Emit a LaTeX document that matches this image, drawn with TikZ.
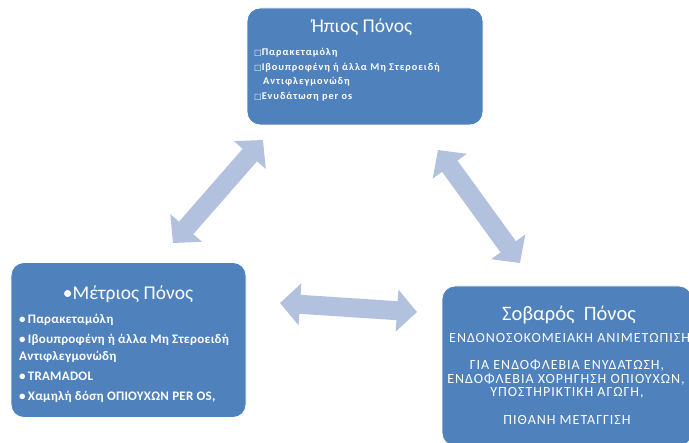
\documentclass[tikz,border=0pt]{standalone}
\usepackage{fontspec}
\setmainfont{Carlito}
\newfontfamily\symf{DejaVu Sans}
\usetikzlibrary{arrows.meta}
\definecolor{boxblue}{HTML}{4F81BD}
\definecolor{arrblue}{HTML}{B2C2DE}
\tikzset{
  box/.style={fill=boxblue, draw=white, line width=0.8pt, rounded corners=13pt, inner sep=0pt},
  ttl/.style={text=white, font=\fontsize{19.5}{22}\selectfont, inner sep=0pt},
  itm/.style={text=white, anchor=base west, inner sep=0pt},
  topitm/.style={itm, font=\bfseries\fontsize{10.3}{12}\selectfont\addfontfeature{LetterSpace=9}},
  lftitm/.style={itm, font=\bfseries\fontsize{13}{15}\selectfont\addfontfeature{LetterSpace=2}},
  rgt/.style={text=white, anchor=base, inner sep=0pt, font=\fontsize{14}{16}\selectfont\addfontfeature{LetterSpace=7}}
  ,
  dbl/.style={arrblue, line width=19pt,
    {Triangle[length=20pt,width=41pt]}-{Triangle[length=20pt,width=41pt]}}
}
\newcommand{\sqb}{{\symf\fontsize{8}{9}\selectfont □}}
\begin{document}
\begin{tikzpicture}[x=1pt,y=-1pt]
\useasboundingbox (0,0) rectangle (689,443);
\clip (0,0) rectangle (689,443);
\fill[white] (0,0) rectangle (689,443);
% boxes
\node[box, minimum width=236pt, minimum height=117pt] (mild) at (365,66.5) {};
\node[box, minimum width=235pt, minimum height=155pt] (mod) at (128.5,340) {};
\node[box, minimum width=250pt, minimum height=160pt] (sev) at (567,366) {};
% top box text
\node[ttl] (mildt) at (362,27) {Ήπιος Πόνος};
\node[topitm] (m1) at (254,55.5) {\sqb Παρακεταμόλη};
\node[topitm] (m2) at (254,70.5) {\sqb Ιβουπροφένη ή άλλα Μη Στεροειδή};
\node[topitm] (m3) at (263,84.5) {Αντιφλεγμονώδη};
\node[topitm] (m4) at (254,99.5) {\sqb Ενυδάτωση per os};
% left box text
\node[ttl] (modt) at (128,294) {•Μέτριος Πόνος};
\node[lftitm] (l1) at (19,324) {•\,Παρακεταμόλη};
\node[lftitm] (l2) at (19,344) {•\,Ιβουπροφένη ή άλλα Μη Στεροειδή};
\node[lftitm] (l3) at (19,361) {Αντιφλεγμονώδη};
\node[lftitm] (l4) at (19,381) {•\,TRAMADOL};
\node[lftitm] (l5) at (19,401) {•\,Χαμηλή δόση ΟΠΙΟΥΧΩΝ PER OS,};
% right box text
\node[ttl, font=\fontsize{20.5}{23}\selectfont] (sevt) at (569,315) {Σοβαρός\ \ Πόνος};
\node[rgt, anchor=base west] (r1) at (449,343) {ΕΝΔΟΝΟΣΟΚΟΜΕΙΑΚΗ ΑΝΙΜΕΤΩΠΙΣΗ};
\node[rgt] (r2) at (567,369.5) {ΓΙΑ ΕΝΔΟΦΛΕΒΙΑ ΕΝΥΔΑΤΩΣΗ,};
\node[rgt] (r3) at (566,383.5) {ΕΝΔΟΦΛΕΒΙΑ ΧΟΡΗΓΗΣΗ ΟΠΙΟΥΧΩΝ,};
\node[rgt] (r4) at (567,397) {ΥΠΟΣΤΗΡΙΚΤΙΚΗ ΑΓΩΓΗ,};
\node[rgt] (r5) at (567,424.5) {ΠΙΘΑΝΗ ΜΕΤΑΓΓΙΣΗ};
% arrow endpoints
\coordinate (a1s) at (173,243);
\coordinate (a1e) at (263,140);
\coordinate (a2s) at (280,303);
\coordinate (a2e) at (417,312);
\coordinate (a3s) at (438,150);
\coordinate (a3e) at (520,263);
\draw[dbl] (a1s) -- (a1e);
\draw[dbl] (a2s) -- (a2e);
\draw[dbl] (a3s) -- (a3e);
\end{tikzpicture}
\end{document}
